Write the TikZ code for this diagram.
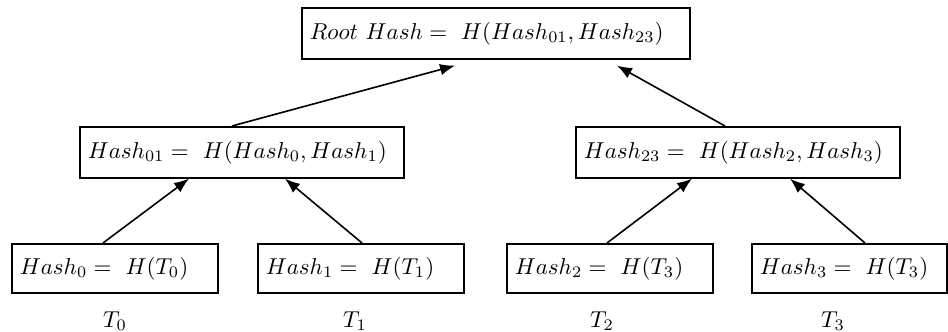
\documentclass[tikz,border=0pt]{standalone}
\usetikzlibrary{arrows.meta,calc}
\begin{document}
\begin{tikzpicture}[x=0.435pt, y=-0.435pt, line width=0.7pt]
\tikzstyle{hashbox}=[draw,rectangle,anchor=north west,inner xsep=3.5pt,align=left,minimum height=22.2pt]
\tikzstyle{hasharrow}=[-{Latex[length=6.5pt,width=5pt]}]
  \useasboundingbox (0,0) rectangle (948,332);
  % top of the tree
  \node[hashbox, text width=161.8pt] (root) at (301,7)
    {$Root\ Hash =\ H(Hash_{01}, Hash_{23})$};
  \node[hashbox, text width=133.9pt] (h01) at (79,126)
    {$Hash_{01} =\ H(Hash_{0}, Hash_{1})$};
  \node[hashbox, text width=133.9pt] (h23) at (575,126)
    {$Hash_{23} =\ H(Hash_{2}, Hash_{3})$};
  % leaves
  \foreach \place/\name/\idx/\leaf/\boxw in {{(11,243)/h0/0/0/82.6pt},
                                             {(257,243)/h1/1/1/82.6pt},
                                             {(506,243)/h2/2/3/82.6pt},
                                             {(751,243)/h3/3/3/77.8pt}}
    \node[hashbox, text width=\boxw, minimum height=21.3pt] (\name) at \place
      {$Hash_{\idx} =\ H(T_{\leaf})$};
  \foreach \x/\name/\idx in {115/t0/0, 355/t1/1, 602/t2/2, 833/t3/3}
    \node[anchor=base] (\name) at (\x,327) {$T_{\idx}$};
  % arrows up the tree
  \draw[hasharrow] ($(h0.north west)+(92,0)$) -- ($(h01.south west)+(110,0)$);
  \draw[hasharrow] ($(h1.north west)+(105,0)$) -- ($(h01.south west)+(206,0)$);
  \draw[hasharrow] ($(h2.north west)+(101,0)$) -- ($(h23.south west)+(117,0)$);
  \draw[hasharrow] ($(h3.north west)+(114,0)$) -- ($(h23.south west)+(215,0)$);
  \draw[hasharrow] ($(h01.north west)+(153,0)$) -- ($(root.south west)+(154,6)$);
  \draw[hasharrow] ($(h23.north west)+(150,0)$) -- ($(root.south west)+(316,6)$);
\end{tikzpicture}
\end{document}
